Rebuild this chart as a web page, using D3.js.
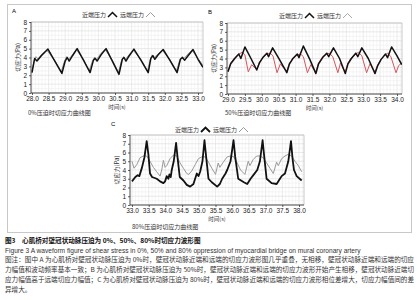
<!DOCTYPE html>
<html>
<head>
<meta charset="utf-8">
<script src="https://cdn.jsdelivr.net/npm/d3@7"></script>
<style>
  body { margin: 0; background: #fff; }
</style>
</head>
<body>
<div class="figure-container"></div>
<script>
// ---- data ----
const yTicks = [0, 1, 2, 3, 4, 5, 6, 7, 8];
const ticksA = [28.0, 28.5, 29.0, 29.5, 30.0, 30.5, 31.0, 31.5, 32.0, 32.5, 33.0];
const ticksB = [29.0, 29.5, 30.0, 30.5, 31.0, 31.5, 32.0, 32.5, 33.0, 33.5, 34.0];
const ticksC = [33.0, 33.5, 34.0, 34.5, 35.0, 35.5, 36.0, 36.5, 37.0, 37.5, 38.0];

const legendNames = ['近端压力', '远端压力'];
const subtitles = ['0%压迫时切应力曲线图', '50%压迫时切应力曲线图', '80%压迫时切应力曲线图'];

// A: 0% oppression
const aProximal = [
  [28.00,2.3],[28.08,3.9],[28.15,3.6],[28.28,4.2],[28.48,4.95],[28.70,3.5],[28.90,2.2],
  [29.00,3.6],[29.06,4.0],[29.12,3.6],[29.22,4.2],[29.36,5.0],[29.55,3.7],[29.75,2.3],
  [29.85,3.7],[29.90,3.9],[29.96,3.6],[30.08,4.3],[30.23,5.0],[30.42,3.6],[30.62,2.1],
  [30.72,3.8],[30.77,4.0],[30.83,3.6],[30.93,4.2],[31.07,4.95],[31.28,3.7],[31.50,2.3],
  [31.58,3.9],[31.64,4.2],[31.70,3.8],[31.80,4.3],[31.95,4.9],[32.15,3.7],[32.37,2.3],
  [32.47,3.8],[32.53,4.0],[32.60,3.7],[32.70,4.2],[32.85,4.9],[33.00,3.8],[33.15,2.9]
];
const aDistal = [
  [28.00,2.5],[28.07,3.7],[28.12,4.1],[28.18,3.8],[28.30,4.4],[28.45,4.8],[28.68,3.7],[28.88,2.4],
  [28.97,3.5],[29.04,4.1],[29.10,3.8],[29.22,4.3],[29.33,4.9],[29.55,3.8],[29.72,2.5],
  [29.82,3.6],[29.88,4.0],[29.95,3.8],[30.06,4.4],[30.20,4.9],[30.42,3.7],[30.60,2.3],
  [30.70,3.7],[30.76,4.1],[30.82,3.8],[30.92,4.3],[31.05,4.8],[31.28,3.8],[31.48,2.5],
  [31.56,3.8],[31.62,4.3],[31.68,4.0],[31.80,4.4],[31.93,4.8],[32.15,3.8],[32.35,2.5],
  [32.45,3.7],[32.52,4.1],[32.58,3.9],[32.70,4.4],[32.82,4.8],[33.00,3.9],[33.15,3.1]
];

// B: 50% oppression
const bProximal = [
  [29.00,2.5],[29.08,3.4],[29.20,4.0],[29.32,4.5],[29.38,4.0],[29.50,5.3],[29.68,4.0],[29.85,2.7],
  [29.93,3.5],[30.03,4.1],[30.15,4.6],[30.20,4.2],[30.32,5.2],[30.52,3.9],[30.74,2.4],
  [30.82,3.4],[30.92,4.0],[31.05,4.5],[31.10,4.1],[31.23,5.4],[31.42,3.9],[31.60,2.3],
  [31.68,3.4],[31.80,4.1],[31.92,4.6],[31.98,4.2],[32.12,5.2],[32.30,4.0],[32.47,2.3],
  [32.55,3.4],[32.65,4.0],[32.78,4.6],[32.84,4.2],[32.96,5.2],[33.15,4.0],[33.35,2.3],
  [33.43,3.2],[33.53,3.9],[33.66,4.5],[33.72,4.1],[33.84,5.3],[34.00,4.3],[34.14,3.3]
];
const bDistal = [
  [29.00,2.6],[29.08,3.5],[29.20,4.1],[29.32,4.5],[29.42,4.7],[29.50,4.4],[29.60,2.5],[29.70,3.3],[29.78,3.0],[29.85,2.8],
  [29.93,3.6],[30.05,4.2],[30.15,4.5],[30.25,4.6],[30.33,4.3],[30.45,2.4],[30.55,3.4],[30.65,2.9],[30.74,2.6],
  [30.82,3.5],[30.95,4.1],[31.05,4.4],[31.15,4.5],[31.23,4.2],[31.35,2.4],[31.45,3.3],[31.53,2.8],[31.60,2.5],
  [31.68,3.5],[31.80,4.2],[31.92,4.5],[32.00,4.6],[32.10,4.2],[32.25,2.4],[32.33,3.5],[32.40,2.9],[32.47,2.5],
  [32.55,3.5],[32.65,4.1],[32.78,4.5],[32.86,4.7],[32.96,4.3],[33.10,2.4],[33.20,3.4],[33.28,2.9],[33.35,2.5],
  [33.43,3.3],[33.53,3.9],[33.64,4.4],[33.72,4.6],[33.82,4.2],[33.97,2.4],[34.05,3.2],[34.14,3.5]
];

// C: 80% oppression
const cProximal = [
  [33.00,2.7],[33.10,3.2],[33.17,3.4],[33.22,3.3],[33.30,4.3],[33.37,5.4],[33.44,7.3],[33.49,5.8],[33.54,3.6],
  [33.60,3.2],[33.74,3.0],[33.84,2.7],[33.94,2.5],[33.99,2.7],[34.04,3.3],[34.09,3.0],[34.12,3.5],[34.16,3.2],
  [34.19,4.0],[34.25,5.0],[34.32,7.1],[34.37,5.2],[34.43,3.2],[34.54,2.8],[34.64,2.3],[34.74,2.1],[34.84,2.4],
  [34.89,3.0],[34.94,3.6],[34.99,3.3],[35.04,3.8],[35.11,5.0],[35.17,7.4],[35.22,5.5],[35.29,3.0],[35.39,2.6],
  [35.55,2.1],[35.63,2.4],[35.70,3.0],[35.80,3.6],[35.85,4.0],[35.95,5.0],[36.04,7.4],[36.09,5.5],[36.18,3.0],
  [36.35,2.6],[36.45,2.4],[36.55,3.0],[36.65,3.5],[36.75,4.0],[36.83,5.0],[36.91,7.4],[36.96,5.5],[37.03,3.0],
  [37.18,2.5],[37.33,2.4],[37.43,3.0],[37.48,3.3],[37.58,3.6],[37.68,5.0],[37.76,7.3],[37.81,5.2],[37.85,4.0],
  [37.93,3.3],[38.08,2.8]
];
const cDistal = [
  [33.00,5.0],[33.06,4.2],[33.14,4.6],[33.24,5.4],[33.34,5.6],[33.44,5.6],[33.54,5.0],[33.64,4.3],[33.74,3.8],
  [33.84,3.3],[33.89,4.0],[33.94,5.1],[33.99,4.3],[34.04,4.5],[34.14,5.3],[34.24,5.7],[34.34,5.6],[34.44,4.8],
  [34.54,4.2],[34.64,3.6],[34.70,3.5],[34.79,3.9],[34.89,4.6],[34.99,5.3],[35.09,5.5],[35.19,5.5],[35.29,4.9],
  [35.39,4.2],[35.50,3.5],[35.58,4.8],[35.63,4.3],[35.75,5.0],[35.85,5.5],[35.95,5.6],[36.05,5.5],[36.15,4.8],
  [36.25,4.0],[36.38,3.5],[36.48,5.0],[36.53,4.5],[36.63,5.2],[36.73,5.6],[36.83,5.6],[36.93,5.4],[37.03,4.8],
  [37.13,4.2],[37.23,3.6],[37.33,4.9],[37.38,4.5],[37.48,5.3],[37.58,5.6],[37.68,5.8],[37.78,5.6],[37.88,5.0],
  [37.98,4.5],[38.08,3.8]
];

const captionLines = [
  '图3　心肌桥对壁冠状动脉压迫为 0%、50%、80%时切应力波形图',
  'Figure 3   A waveform figure of shear stress in 0%, 50% and 80% oppression of myocardial bridge on mural coronary artery',
  '图注：图中 A 为心肌桥对壁冠状动脉压迫为 0%时，壁冠状动脉近端和远端的切应力波形图几乎重叠，无相移，壁冠状动脉近端和远端的切应',
  '力幅值和波动频率基本一致；B 为心肌桥对壁冠状动脉压迫为 50%时，壁冠状动脉近端和远端的切应力波形开始产生相移，壁冠状动脉近端切',
  '应力幅值高于远端切应力幅值；C 为心肌桥对壁冠状动脉压迫为 80%时，壁冠状动脉近端和远端的切应力波形相位差增大，切应力幅值间的差',
  '异增大。'
];

// ---- layout ----
const W = 419, H = 300;
const cjk = '"Noto Sans CJK SC", "Noto Sans", sans-serif';
const num = '"Liberation Sans", Arial, sans-serif';

const svg = d3.select('.figure-container').append('svg')
  .attr('width', W)
  .attr('height', H);

// outer frame
svg.append('rect')
  .attr('x', 7.5).attr('y', 4.5)
  .attr('width', 404).attr('height', 228)
  .attr('fill', 'none')
  .attr('stroke', '#c8c8c8');

const panels = [
  { label: 'A', left: 31, right: 203, top: 22, bottom: 93, t0x: 32, t1x: 198, ticks: ticksA,
    series: [aDistal, aProximal], colors: ['#9a9a9a', '#111'], widths: [1, 1.5],
    legendX: 82, legendY: 15, subtitle: subtitles[0], subX: 28, subY: 115, xlabY: 108.5 },
  { label: 'B', left: 227, right: 402, top: 23, bottom: 94, t0x: 228, t1x: 397, ticks: ticksB,
    series: [bDistal, bProximal], colors: ['#d4555a', '#111'], widths: [1, 1.5],
    legendX: 279, legendY: 16, subtitle: subtitles[1], subX: 225, subY: 115, xlabY: 109.5 },
  { label: 'C', left: 130, right: 304, top: 135, bottom: 205, t0x: 132, t1x: 299, ticks: ticksC,
    series: [cDistal, cProximal], colors: ['#999', '#111'], widths: [1, 1.8],
    legendX: 175, legendY: 130, subtitle: subtitles[2], subX: 132, subY: 229, xlabY: 220.5 }
];

function drawPanel(p, i) {
  const x = d3.scaleLinear()
    .domain([p.ticks[0], p.ticks[p.ticks.length - 1]])
    .range([p.t0x, p.t1x]);
  const y = d3.scaleLinear().domain([0, 8]).range([p.bottom, p.top]);

  const g = svg.append('g');

  // grid
  const tMin = x.invert(p.left), tMax = x.invert(p.right);
  const vMinor = d3.range(Math.ceil(tMin * 10), Math.floor(tMax * 10) + 1).map(d => d / 10);
  g.append('g').selectAll('line')
    .data(vMinor)
    .enter()
    .append('line')
    .attr('x1', d => x(d)).attr('x2', d => x(d))
    .attr('y1', p.top).attr('y2', p.bottom)
    .attr('stroke', d => Math.abs(d * 2 - Math.round(d * 2)) < 1e-6 ? '#dedede' : '#f0f0f0')
    .attr('stroke-width', 0.6);
  g.append('g').selectAll('line')
    .data(d3.range(0, 8.01, 0.5))
    .enter()
    .append('line')
    .attr('x1', p.left).attr('x2', p.right)
    .attr('y1', d => y(d)).attr('y2', d => y(d))
    .attr('stroke', d => d % 1 === 0 ? '#dcdcdc' : '#efefef')
    .attr('stroke-width', 0.6);

  // frame top/right
  g.append('path')
    .attr('d', `M${p.left},${p.top}H${p.right}V${p.bottom}`)
    .attr('fill', 'none')
    .attr('stroke', '#bdbdbd')
    .attr('stroke-width', 0.8);

  // lines
  const clipId = `clip-${i}`;
  svg.append('clipPath').attr('id', clipId)
    .append('rect')
    .attr('x', p.left).attr('y', p.top - 2)
    .attr('width', p.right - p.left).attr('height', p.bottom - p.top + 2);

  const line = d3.line().x(d => x(d[0])).y(d => y(d[1]));
  g.append('g')
    .attr('clip-path', `url(#${clipId})`)
    .selectAll('path')
    .data(p.series)
    .enter()
    .append('path')
    .attr('d', line)
    .attr('fill', 'none')
    .attr('stroke', (d, j) => p.colors[j])
    .attr('stroke-width', (d, j) => p.widths[j])
    .attr('stroke-linejoin', 'round');

  // axes
  const yAxis = g.append('g')
    .attr('transform', `translate(${p.left},0)`)
    .call(d3.axisLeft(y).tickValues(yTicks).tickSize(2).tickPadding(2).tickFormat(d3.format('d')));
  const xAxis = g.append('g')
    .attr('transform', `translate(0,${p.bottom})`)
    .call(d3.axisBottom(x).tickValues(p.ticks).tickSize(2).tickPadding(1.5).tickFormat(d3.format('.1f')));
  [yAxis, xAxis].forEach(a => {
    a.select('.domain').remove();
    a.selectAll('line').attr('stroke', '#222').attr('stroke-width', 0.7);
    a.selectAll('text').style('font', `6.5px ${num}`).attr('fill', '#222');
  });
  g.append('path')
    .attr('d', `M${p.left},${p.top}V${p.bottom}H${p.right}`)
    .attr('fill', 'none')
    .attr('stroke', '#222')
    .attr('stroke-width', 0.8);

  // texts
  g.append('text')
    .attr('x', p.left - 19).attr('y', p.top - 9)
    .style('font', `6px ${num}`)
    .text(p.label);

  g.append('text')
    .attr('transform', `translate(${p.left - 11},${(p.top + p.bottom) / 2}) rotate(-90)`)
    .attr('text-anchor', 'middle')
    .style('font', `6px ${cjk}`)
    .attr('fill', '#333')
    .text('切应力(Pa)');

  g.append('text')
    .attr('x', (p.left + p.right) / 2).attr('y', p.xlabY)
    .attr('text-anchor', 'middle')
    .style('font', `5.5px ${cjk}`)
    .attr('fill', '#333')
    .text('时间(s)');

  g.append('text')
    .attr('x', p.subX).attr('y', p.subY)
    .style('font', `6px ${cjk}`)
    .attr('fill', '#333')
    .text(p.subtitle);

  // legend: proximal (black) first, then distal
  const lg = g.append('g').attr('transform', `translate(${p.legendX},${p.legendY})`);
  const legendColors = [p.colors[1], i === 1 ? '#aaa' : p.colors[0]];
  const legendW = [p.widths[1], 1];
  legendNames.forEach((name, j) => {
    const ox = j * 38;
    lg.append('text')
      .attr('x', ox).attr('y', 2)
      .style('font', `6px ${cjk}`)
      .attr('fill', '#333')
      .text(name);
    lg.append('path')
      .attr('d', `M${ox + 26},${2}L${ox + 30.5},${-2.5}L${ox + 35},${2}`)
      .attr('fill', 'none')
      .attr('stroke', legendColors[j])
      .attr('stroke-width', legendW[j]);
  });
}

panels.forEach(drawPanel);

// caption
const cap = svg.append('g');
const capY = [243, 252.5, 262, 272, 282, 292];
captionLines.forEach((t, k) => {
  const txt = cap.append('text')
    .attr('x', 5).attr('y', capY[k])
    .attr('fill', k === 0 ? '#111' : '#333')
    .style('font', `${k === 0 ? 'bold ' : ''}6.6px ${k === 1 ? num : cjk}`)
    .text(t);
  if (k >= 2 && k <= 4) {
    txt.attr('textLength', 409).attr('lengthAdjust', 'spacingAndGlyphs');
  }
});
</script>
</body>
</html>
